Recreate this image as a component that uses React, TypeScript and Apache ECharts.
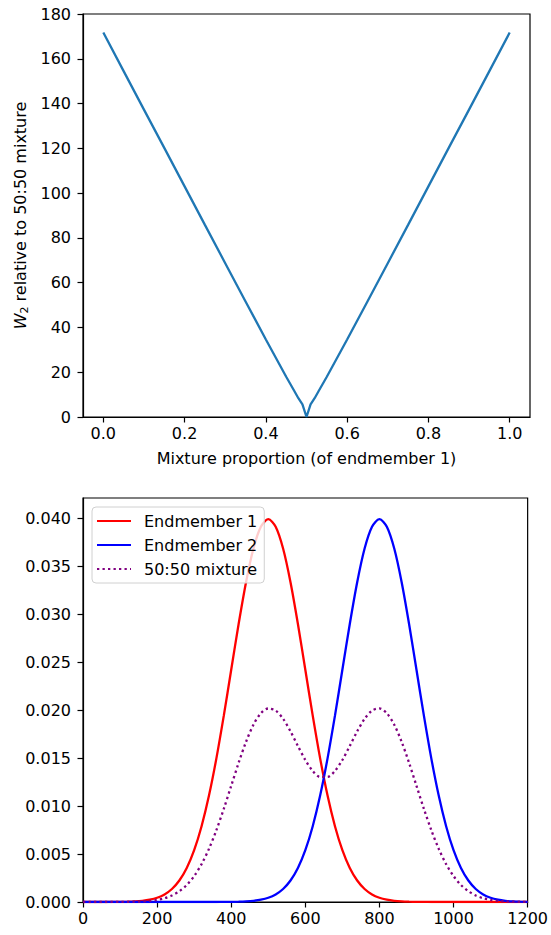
import React, { useEffect, useRef } from "react";
import * as echarts from "echarts";

// ---- Top panel: W2 distance vs mixture proportion ----
const mixProportion = [
  0, 0.05, 0.1, 0.15, 0.2, 0.25, 0.3, 0.35, 0.4, 0.45, 0.47, 0.48, 0.49, 0.5,
  0.51, 0.52, 0.53, 0.55, 0.6, 0.65, 0.7, 0.75, 0.8, 0.85, 0.9, 0.95, 1.0,
];
const w2Values = [
  171.7, 154.5, 137.3, 120.2, 103.0, 85.8, 68.7, 51.6, 34.6, 18.0, 11.6, 8.4, 5.6, 0,
  5.6, 8.4, 11.6, 18.0, 34.6, 51.6, 68.7, 85.8, 103.0, 120.2, 137.3, 154.5, 171.7,
];
const topXTicks = [0, 0.2, 0.4, 0.6, 0.8, 1.0];
const topYTicks = [0, 20, 40, 60, 80, 100, 120, 140, 160, 180];

// ---- Bottom panel: endmember distributions ----
const gridX = [
  0, 20, 40, 60, 80, 100, 120, 140, 160, 180, 200, 220, 240, 260, 280, 300, 320, 340,
  360, 380, 400, 420, 440, 460, 480, 500, 520, 540, 560, 580, 600, 620, 640, 660, 680,
  700, 720, 740, 760, 780, 800, 820, 840, 860, 880, 900, 920, 940, 960, 980, 1000,
  1020, 1040, 1060, 1080, 1100, 1120, 1140, 1160, 1180, 1200,
];
const endmember1 = [
  0.0000002, 0.0000004, 0.000001, 0.0000025, 0.0000059, 0.0000134, 0.0000292, 0.0000612,
  0.000123, 0.000238, 0.000443, 0.000792, 0.001358, 0.002239, 0.003547, 0.0054, 0.0079,
  0.01109, 0.01497, 0.01942, 0.0242, 0.02897, 0.03332, 0.03683, 0.0391, 0.03989, 0.0391,
  0.03683, 0.03332, 0.02897, 0.0242, 0.01942, 0.01497, 0.01109, 0.0079, 0.0054, 0.003547,
  0.002239, 0.001358, 0.000792, 0.000443, 0.000238, 0.000123, 0.0000612, 0.0000292,
  0.0000134, 0.0000059, 0.0000025, 0.000001, 0.0000004, 0.0000002,
  0, 0, 0, 0, 0, 0, 0, 0, 0, 0,
];
const endmember2 = [
  0, 0, 0, 0, 0, 0, 0, 0, 0, 0, 0, 0, 0, 0, 0,
  0.0000002, 0.0000004, 0.000001, 0.0000025, 0.0000059, 0.0000134, 0.0000292, 0.0000612,
  0.000123, 0.000238, 0.000443, 0.000792, 0.001358, 0.002239, 0.003547, 0.0054, 0.0079,
  0.01109, 0.01497, 0.01942, 0.0242, 0.02897, 0.03332, 0.03683, 0.0391, 0.03989, 0.0391,
  0.03683, 0.03332, 0.02897, 0.0242, 0.01942, 0.01497, 0.01109, 0.0079, 0.0054, 0.003547,
  0.002239, 0.001358, 0.000792, 0.000443, 0.000238, 0.000123, 0.0000612, 0.0000292,
  0.0000134,
];
const mixture5050 = [
  0.0000001, 0.0000002, 0.0000005, 0.0000013, 0.000003, 0.0000067, 0.0000146, 0.0000306,
  0.0000615, 0.000119, 0.000222, 0.000396, 0.000679, 0.00112, 0.001774, 0.0027, 0.00395,
  0.005546, 0.007486, 0.009713, 0.012107, 0.0145, 0.01669, 0.018477, 0.019669, 0.020167,
  0.019946, 0.019094, 0.01778, 0.016259, 0.0148, 0.01366, 0.01303, 0.01303, 0.01366,
  0.0148, 0.016259, 0.01778, 0.019094, 0.019946, 0.020167, 0.019669, 0.018477, 0.01669,
  0.0145, 0.012107, 0.009713, 0.007486, 0.005546, 0.00395, 0.0027, 0.001774, 0.00112,
  0.000679, 0.000396, 0.000222, 0.000119, 0.0000615, 0.0000306, 0.0000146, 0.0000067,
];
const bottomXTicks = [0, 200, 400, 600, 800, 1000, 1200];
const bottomYTicks = [0, 0.005, 0.01, 0.015, 0.02, 0.025, 0.03, 0.035, 0.04];

const FONT = "DejaVu Sans";
const FS = 16;
const LW = 2.3;

const axisCommon = {
  axisLine: { show: true, onZero: false, lineStyle: { color: "#000", width: 1.2 } },
  axisTick: { show: true, length: 5.5, lineStyle: { color: "#000", width: 1.2 } },
  splitLine: { show: false },
};

export default function App() {
  const ref = useRef<HTMLDivElement>(null);
  useEffect(() => {
    if (!ref.current) return;
    const chart = echarts.init(ref.current, undefined, { renderer: "svg" });
    const labelStyle = { color: "#000", fontSize: FS, fontFamily: FONT };
    const option = {
      animation: false,
      backgroundColor: "#fff",
      textStyle: { fontFamily: FONT },
      grid: [
        { left: 83, top: 14, width: 447, height: 403, show: true, borderColor: "#000", borderWidth: 1.2, backgroundColor: "transparent" },
        { left: 83, top: 498, width: 447, height: 404, show: true, borderColor: "#000", borderWidth: 1.2, backgroundColor: "transparent" },
      ],
      xAxis: [
        {
          type: "value",
          gridIndex: 0,
          min: -0.05,
          max: 1.05,
          ...axisCommon,
          axisTick: { ...axisCommon.axisTick, customValues: topXTicks },
          axisLabel: { ...labelStyle, margin: 8, customValues: topXTicks, formatter: (v: number) => v.toFixed(1) },
          name: "Mixture proportion (of endmember 1)",
          nameLocation: "middle",
          nameGap: 33,
          nameTextStyle: { ...labelStyle },
        },
        {
          type: "value",
          gridIndex: 1,
          min: 0,
          max: 1200,
          ...axisCommon,
          axisTick: { ...axisCommon.axisTick, customValues: bottomXTicks },
          axisLabel: { ...labelStyle, margin: 8, customValues: bottomXTicks, formatter: (v: number) => String(v) },
        },
      ],
      yAxis: [
        {
          type: "value",
          gridIndex: 0,
          min: 0,
          max: 180,
          ...axisCommon,
          axisTick: { ...axisCommon.axisTick, customValues: topYTicks },
          axisLabel: { ...labelStyle, margin: 12, customValues: topYTicks, formatter: (v: number) => String(v) },
          name: "{i|W}{s|2} relative to 50:50 mixture",
          nameLocation: "middle",
          nameRotate: 90,
          nameGap: 53,
          nameTextStyle: {
            ...labelStyle,
            rich: {
              i: { fontStyle: "italic", fontSize: FS, fontFamily: FONT, color: "#000" },
              s: { fontSize: 11, fontFamily: FONT, color: "#000", verticalAlign: "bottom", padding: [7, 0, 0, 0] },
            },
          },
        },
        {
          type: "value",
          gridIndex: 1,
          min: 0,
          max: 0.0421,
          ...axisCommon,
          axisTick: { ...axisCommon.axisTick, customValues: bottomYTicks },
          axisLabel: { ...labelStyle, margin: 12, customValues: bottomYTicks, formatter: (v: number) => v.toFixed(3) },
        },
      ],
      legend: {
        orient: "vertical",
        left: 92,
        top: 507,
        itemWidth: 34,
        itemHeight: 14,
        itemGap: 8,
        padding: [6, 7, 6, 4],
        backgroundColor: "rgba(255,255,255,0.8)",
        borderColor: "#d0d0d0",
        borderWidth: 1,
        borderRadius: 4,
        itemStyle: { opacity: 0 },
        textStyle: { ...labelStyle, padding: [0, 0, 0, 8] },
        data: ["Endmember 1", "Endmember 2", "50:50 mixture"],
      },
      series: [
        {
          type: "line",
          xAxisIndex: 0,
          yAxisIndex: 0,
          symbol: "none",
          data: mixProportion.map((x, i) => [x, w2Values[i]]),
          lineStyle: { color: "#1f77b4", width: LW },
          itemStyle: { color: "#1f77b4" },
        },
        {
          name: "Endmember 1",
          type: "line",
          xAxisIndex: 1,
          yAxisIndex: 1,
          symbol: "none",
          smooth: 0.3,
          data: gridX.map((x, i) => [x, endmember1[i]]),
          lineStyle: { color: "#ff0000", width: LW },
          itemStyle: { color: "#ff0000" },
        },
        {
          name: "Endmember 2",
          type: "line",
          xAxisIndex: 1,
          yAxisIndex: 1,
          symbol: "none",
          smooth: 0.3,
          data: gridX.map((x, i) => [x, endmember2[i]]),
          lineStyle: { color: "#0000ff", width: LW },
          itemStyle: { color: "#0000ff" },
        },
        {
          name: "50:50 mixture",
          type: "line",
          xAxisIndex: 1,
          yAxisIndex: 1,
          symbol: "none",
          smooth: 0.3,
          data: gridX.map((x, i) => [x, mixture5050[i]]),
          lineStyle: { color: "#800080", width: LW, type: [2.3, 3.2] },
          itemStyle: { color: "#800080" },
        },
      ],
    };
    chart.setOption(option as any);
    return () => chart.dispose();
  }, []);
  return (
    <div
      ref={ref}
      style={{ position: "absolute", left: 0, top: 0, width: 551, height: 935 }}
    />
  );
}
